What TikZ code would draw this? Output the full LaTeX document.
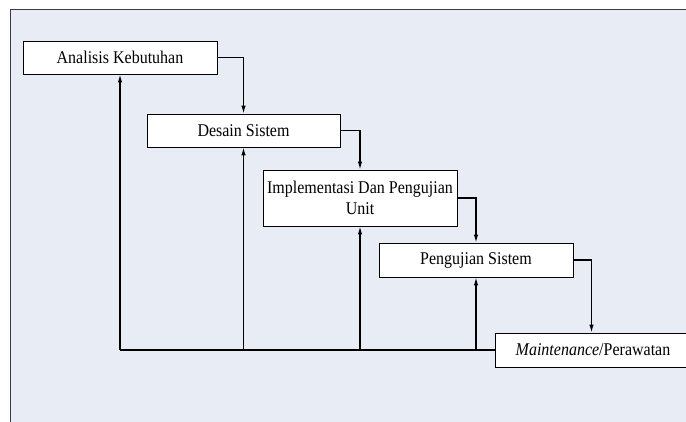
\documentclass[tikz,border=0pt]{standalone}
\usepackage{fontspec}
\setmainfont{Liberation Serif}
\usetikzlibrary{arrows.meta}
\definecolor{panel}{RGB}{232,237,245}
\definecolor{panelline}{RGB}{60,60,60}
\newcommand\talltext[1]{\scalebox{1}[1.12]{#1}}
\tikzset{
  stage/.style={draw=black, line width=0.9pt, fill=white, rectangle, minimum width=194pt,
    inner sep=0pt, font=\fontsize{16}{21}\selectfont, align=center, text=black},
  flow/.style={draw=black, line width=1.2pt, -{Latex[length=8pt,width=4.5pt]}},
  back/.style={draw=black, line width=1.2pt},
}
\begin{document}
\begin{tikzpicture}[x=1pt,y=-1pt]
\useasboundingbox (0,0) rectangle (686,421);
\fill[white] (0,0) rectangle (686,421);
\fill[panel] (10,9) rectangle (690,425);
\draw[panelline, line width=1pt] (10,425) -- (10,9) -- (690,9);

\node[stage, minimum height=33pt] (A) at (120,57.5) {\talltext{Analisis Kebutuhan}};
\node[stage, minimum height=33pt, minimum width=193pt] (D) at (243.5,130.5) {\talltext{Desain Sistem}};
\node[stage, minimum height=56pt] (I) at (360,198) {\talltext{Implementasi Dan Pengujian}\\\talltext{Unit}};
\node[stage, minimum height=34pt] (P) at (476,260) {\talltext{Pengujian Sistem}};
\node[stage, minimum height=34pt, minimum width=196pt] (M) at (593,350) {\talltext{\textit{Maintenance}/Perawatan}};

% forward flow
\draw[flow] (A.east) -| (D.north);
\draw[flow] (D.east) -| (I.north);
\draw[flow] (I.east) -| (P.north);
\draw[flow] (P.east) -| ([xshift=-1.5pt]M.north);

% feedback
\coordinate (fb) at (A.south |- M.west);
\draw[back] (M.west) -- (fb);
\draw[flow] (fb) -- (A.south);
\draw[flow] (D.south |- M.west) -- (D.south);
\draw[flow] (I.south |- M.west) -- (I.south);
\draw[flow] (P.south |- M.west) -- (P.south);
\end{tikzpicture}
\end{document}
